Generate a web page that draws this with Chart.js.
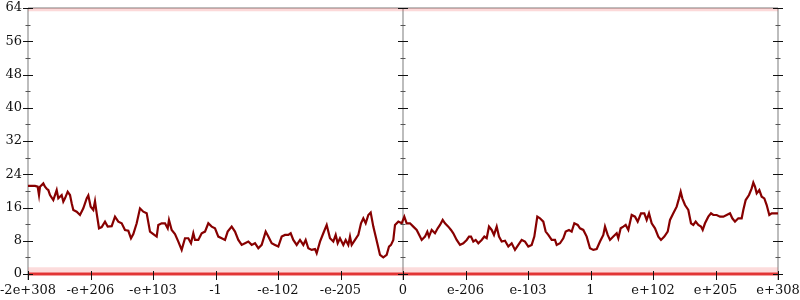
<!DOCTYPE html>
<html>
<head>
<meta charset="utf-8">
<script src="https://cdn.jsdelivr.net/npm/chart.js@4.4.1/dist/chart.umd.min.js"></script>
<style>
html,body{margin:0;padding:0;background:#fff;}
#wrap{width:800px;height:300px;position:relative;}
</style>
</head>
<body>
<div id="wrap"><canvas id="c" width="800" height="300"></canvas></div>
<script>
// Tick labels on the x axis (evenly spaced positions 0..12)
const xTickLabels = ['-2e+308','-e+206','-e+103','-1','-e-102','-e-205','0','e-206','e-103','1','e+102','e+205','e+308'];
const yTicks = [0, 8, 16, 24, 32, 40, 48, 56, 64];

// Main series: position along the x axis (tick index units) and value
const posX = [0,0.112,0.155,0.176,0.192,0.245,0.272,0.299,0.325,0.352,0.405,0.459,0.485,0.539,0.565,0.592,0.635,0.672,0.699,0.725,0.779,0.832,0.885,0.939,0.965,1.003,1.045,1.072,1.099,1.136,1.179,1.232,1.275,1.339,1.392,1.445,1.499,1.552,1.605,1.648,1.685,1.739,1.792,1.845,1.899,1.952,2.005,2.059,2.085,2.139,2.192,2.235,2.256,2.299,2.352,2.405,2.459,2.512,2.565,2.608,2.645,2.672,2.725,2.779,2.832,2.885,2.939,2.992,3.045,3.099,3.152,3.195,3.259,3.312,3.365,3.419,3.472,3.525,3.579,3.632,3.685,3.739,3.803,3.845,3.899,3.952,4.005,4.059,4.112,4.165,4.203,4.245,4.299,4.352,4.405,4.443,4.485,4.539,4.592,4.619,4.672,4.725,4.779,4.832,4.885,4.923,4.955,4.992,5.045,5.083,5.125,5.152,5.179,5.232,5.285,5.328,5.365,5.403,5.445,5.483,5.525,5.563,5.595,5.632,5.685,5.739,5.776,5.808,5.845,5.872,5.925,5.979,6.021,6.059,6.112,6.165,6.219,6.272,6.299,6.352,6.389,6.416,6.459,6.512,6.555,6.592,6.635,6.672,6.725,6.768,6.805,6.859,6.912,6.965,7.019,7.056,7.088,7.125,7.163,7.205,7.259,7.301,7.339,7.376,7.419,7.456,7.499,7.536,7.579,7.632,7.685,7.739,7.792,7.845,7.899,7.952,8.005,8.059,8.101,8.149,8.192,8.245,8.283,8.325,8.379,8.432,8.459,8.512,8.565,8.603,8.656,8.699,8.741,8.795,8.832,8.885,8.939,8.992,9.045,9.099,9.152,9.205,9.232,9.275,9.312,9.365,9.419,9.445,9.483,9.525,9.563,9.605,9.659,9.712,9.755,9.808,9.861,9.899,9.936,9.979,10.032,10.085,10.128,10.181,10.235,10.272,10.325,10.379,10.416,10.443,10.469,10.512,10.565,10.608,10.645,10.683,10.725,10.768,10.795,10.832,10.885,10.928,10.965,11.019,11.072,11.125,11.179,11.232,11.269,11.312,11.365,11.419,11.445,11.483,11.536,11.579,11.605,11.632,11.659,11.701,11.739,11.781,11.819,11.861,11.899,12];
const values = [21.2,21.2,21.0,19.0,21.0,21.8,21.0,20.5,20.2,19.0,17.8,20.2,18.2,19.0,17.4,18.2,19.8,19.0,17.0,15.4,15.0,14.2,15.8,18.2,18.9,16.2,15.4,17.5,14.6,11.0,11.3,12.6,11.4,11.5,13.8,12.6,12.2,10.6,10.4,8.6,9.6,12.2,15.8,15.0,14.6,10.2,9.6,9.0,11.8,12.2,12.2,11.0,13.0,10.6,9.6,7.8,5.8,8.6,8.6,7.4,9.8,8.2,8.2,9.8,10.2,12.2,11.4,11.0,9.0,8.6,8.2,10.2,11.4,10.2,8.2,7.0,7.4,7.8,7.0,7.4,6.2,7.0,10.2,9.0,7.4,7.0,6.6,9.0,9.4,9.4,9.8,8.2,7.0,8.2,7.0,8.2,6.2,5.8,6.0,5.0,7.8,9.8,11.8,8.6,7.8,9.4,7.4,8.6,7.0,8.2,7.0,9.0,7.0,8.2,9.4,12.2,13.4,12.2,14.2,14.8,11.4,9.0,7.0,4.6,4.0,4.6,6.6,7.0,8.2,11.8,12.6,12.2,13.8,12.2,12.2,11.4,10.6,9.0,8.2,9.0,10.2,9.0,10.6,9.8,11.0,11.8,13.0,12.2,11.4,10.6,9.8,8.2,7.0,7.4,8.2,9.0,9.0,7.8,8.2,7.4,8.2,9.0,8.6,11.4,10.6,9.4,11.4,9.0,7.8,8.0,6.6,7.4,5.8,7.0,8.2,7.8,6.6,7.0,9.0,13.8,13.4,12.6,10.2,9.4,8.2,8.2,7.0,7.4,8.6,10.2,10.6,10.2,12.2,11.8,11.0,10.6,9.0,6.2,5.8,6.0,7.8,9.4,11.4,9.4,8.2,9.0,9.8,8.6,11.0,11.4,11.8,10.6,14.2,13.8,12.6,14.6,14.6,13.0,14.6,12.2,11.0,9.0,8.2,9.0,10.2,13.0,14.6,16.2,18.2,19.8,18.2,16.6,15.4,12.2,11.8,12.6,11.8,11.4,10.6,12.2,13.8,14.6,14.2,14.2,13.8,13.8,14.2,14.6,13.4,12.6,13.4,13.4,15.4,17.8,19.0,20.6,22.0,21.0,19.4,20.2,18.6,18.2,16.6,14.2,14.6,14.6];

// Density bands at the bottom and top edges
const bandX = [0, 12];
const bottomEdge = [0, 0];
const bottomBand = [1.6, 1.6];
const topEdge = [64, 64];
const topBand = [63.2, 63.2];

const pts = (xs, ys) => xs.map((x, i) => ({x: x, y: ys[i]}));

const axisDeco = {
  id: 'axisDeco',
  beforeDatasetsDraw(chart) {
    const {ctx, chartArea: a, scales: {x, y}} = chart;
    ctx.save();
    ctx.strokeStyle = '#bdbdbd';
    ctx.lineWidth = 2;
    ctx.beginPath();
    ctx.moveTo(a.left, a.top); ctx.lineTo(a.right, a.top);
    ctx.moveTo(a.left, a.bottom); ctx.lineTo(a.right, a.bottom);
    const cx = x.getPixelForValue(6);
    [a.left, cx, a.right].forEach(px => { ctx.moveTo(px, a.top); ctx.lineTo(px, a.bottom + 6); });
    ctx.stroke();
    ctx.restore();
  },
  afterDatasetsDraw(chart) {
    const {ctx, chartArea: a, scales: {x, y}} = chart;
    ctx.save();
    const cx = x.getPixelForValue(6);
    const axes = [a.left, cx, a.right];
    for (let v = 0; v <= 64; v += 4) {
      const py = Math.round(y.getPixelForValue(v)) + 0.5;
      const major = v % 8 === 0;
      ctx.strokeStyle = major ? '#111' : '#555';
      ctx.lineWidth = 1;
      const half = major ? 5 : 2.5;
      ctx.beginPath();
      axes.forEach(px => { ctx.moveTo(px - half, py); ctx.lineTo(px + half, py); });
      ctx.stroke();
    }
    ctx.strokeStyle = '#111';
    ctx.beginPath();
    for (let i = 0; i < xTickLabels.length; i++) {
      const px = Math.round(x.getPixelForValue(i)) + 0.5;
      ctx.moveTo(px, a.bottom - 3); ctx.lineTo(px, a.bottom + 6);
    }
    ctx.stroke();
    ctx.restore();
  }
};

new Chart(document.getElementById('c'), {
  type: 'scatter',
  data: {
    datasets: [
      {data: pts(bandX, bottomBand), showLine: true, borderWidth: 0, borderColor: 'rgba(0,0,0,0)', pointRadius: 0, fill: {target: 1}, backgroundColor: 'rgba(240,80,80,0.2)', order: 5},
      {data: pts(bandX, bottomEdge), showLine: true, borderWidth: 3, borderColor: 'rgba(228,40,40,0.9)', pointRadius: 0, fill: false, clip: false, order: 4},
      {data: pts(bandX, topBand), showLine: true, borderWidth: 0, borderColor: 'rgba(0,0,0,0)', pointRadius: 0, fill: {target: 3}, backgroundColor: 'rgba(240,80,80,0.22)', order: 6},
      {data: pts(bandX, topEdge), showLine: true, borderWidth: 0, borderColor: 'rgba(0,0,0,0)', pointRadius: 0, fill: false, order: 7},
      {data: pts(posX, values), showLine: true, borderWidth: 2.2, borderColor: '#870000', pointRadius: 0, fill: false, tension: 0, order: 1}
    ]
  },
  options: {
    animation: false,
    responsive: false,
    devicePixelRatio: 1,
    layout: {padding: {top: 8, right: 22, left: 0, bottom: 0}},
    plugins: {legend: {display: false}, tooltip: {enabled: false}},
    scales: {
      x: {
        type: 'linear', min: 0, max: 12,
        border: {display: false},
        grid: {display: false, drawTicks: false},
        afterBuildTicks: s => { s.ticks = xTickLabels.map((_, i) => ({value: i})); },
        afterFit: s => { s.height = 26; s.paddingLeft = 0; s.paddingRight = 0; },
        ticks: {autoSkip: false, maxRotation: 0, padding: 9, color: '#111', font: {family: 'DejaVu Serif', size: 13}, callback: v => xTickLabels[v]}
      },
      y: {
        min: 0, max: 64,
        border: {display: false},
        grid: {display: false, drawTicks: false},
        afterBuildTicks: s => { s.ticks = yTicks.map(v => ({value: v})); },
        afterFit: s => { s.width = 28; s.paddingTop = 0; s.paddingBottom = 0; },
        ticks: {padding: 6, color: '#111', font: {family: 'DejaVu Serif', size: 13}}
      }
    }
  },
  plugins: [axisDeco]
});
</script>
</body>
</html>
